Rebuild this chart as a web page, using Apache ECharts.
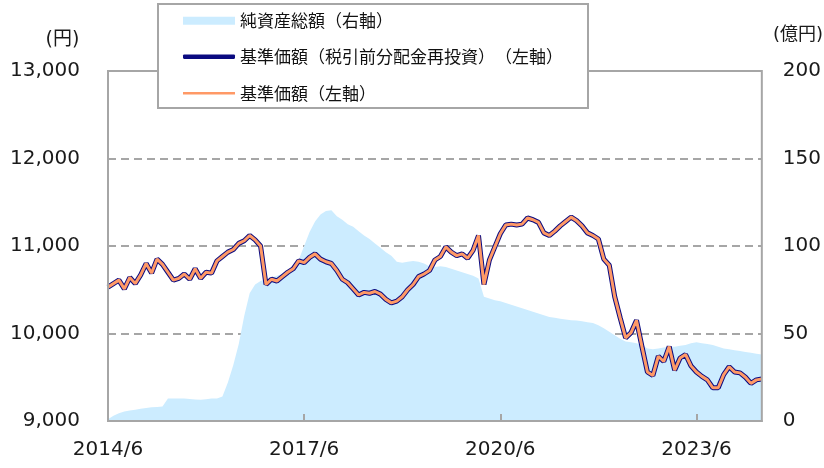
<!DOCTYPE html>
<html>
<head>
<meta charset="utf-8">
<script src="https://cdn.jsdelivr.net/npm/echarts@6/dist/echarts.min.js"></script>
<style>
html,body{margin:0;padding:0;background:#fff;}
#chart{width:824px;height:468px;}
</style>
</head>
<body>
<div id="chart"></div>
<script>
// Monthly categories 2014/6 .. 2024/6
const categories = [];
for (let y = 2014, m = 6; y < 2024 || (y === 2024 && m <= 6); ) {
  categories.push(y + '/' + m);
  m++; if (m > 12) { m = 1; y++; }
}
const xTickLabels = ['2014/6', '2017/6', '2020/6', '2023/6'];

// 純資産総額（億円）
const netAssets = [
  1, 3, 4.5, 5.5, 6, 6.5, 7, 7.5, 7.8, 8,
  8.3, 12.8, 12.8, 12.8, 12.8, 12.6, 12.3, 12.2, 12.5, 12.8,
  12.9, 14, 22, 32, 44, 60, 73, 78, 80, 81,
  82, 83, 84, 86, 88, 92, 100, 108, 114, 118,
  120, 120.5, 117, 115, 112.5, 111, 108.5, 106, 104, 101.5,
  99, 96.5, 94.5, 91, 90.5, 91, 91.5, 91, 90, 88.5,
  88, 88.5, 88, 87, 86, 85, 84, 83, 81.5, 71,
  70, 69, 68.5, 67.5, 66.5, 65.5, 64.5, 63.5, 62.5, 61.5,
  60.5, 59.5, 59, 58.5, 58, 57.6, 57.5, 57, 56.5, 56,
  54.7, 53, 51, 49, 47, 45.5, 45, 44.5, 43.5, 41.5,
  41, 41.5, 42, 42.5, 42.5, 43, 43.5, 44.5, 45, 44.5,
  44, 43.5, 42.5, 41.5, 41, 40.5, 40, 39.5, 39, 38.5,
  38
];

// 基準価額（税引前分配金再投資）（円）
const navReinvested = [
  10530, 10570, 10610, 10510, 10640, 10570, 10670, 10800, 10690, 10850,
  10790, 10700, 10610, 10630, 10680, 10620, 10740, 10630, 10700, 10690,
  10830, 10880, 10930, 10960, 11030, 11060, 11120, 11070, 11000, 10560,
  10620, 10600, 10650, 10700, 10740, 10830, 10810, 10870, 10910, 10850,
  10820, 10800, 10720, 10620, 10580, 10510, 10440, 10470, 10460, 10480,
  10450, 10390, 10350, 10370, 10420, 10500, 10560, 10650, 10680, 10720,
  10840, 10880, 10990, 10930, 10890, 10910, 10860, 10950, 11120, 10560,
  10840, 10990, 11140, 11240, 11250, 11240, 11250, 11320, 11300, 11270,
  11150, 11120, 11170, 11230, 11280, 11330, 11290, 11230, 11150, 11120,
  11080, 10850, 10780, 10420, 10180, 9950, 10010, 10150, 9850, 9560,
  9520, 9740, 9680, 9850, 9580, 9720, 9760, 9630, 9560, 9510,
  9470, 9380, 9380, 9530, 9620, 9560, 9550, 9500, 9430, 9470,
  9480
];

// 基準価額（円）
const nav = [
  10530, 10570, 10610, 10510, 10640, 10570, 10670, 10800, 10690, 10850,
  10790, 10700, 10610, 10630, 10680, 10620, 10740, 10630, 10700, 10690,
  10830, 10880, 10930, 10960, 11030, 11060, 11120, 11070, 11000, 10560,
  10620, 10600, 10650, 10700, 10740, 10830, 10810, 10870, 10910, 10850,
  10820, 10800, 10720, 10620, 10580, 10510, 10440, 10470, 10460, 10480,
  10450, 10390, 10350, 10370, 10420, 10500, 10560, 10650, 10680, 10720,
  10840, 10880, 10990, 10930, 10890, 10910, 10860, 10950, 11120, 10560,
  10840, 10990, 11140, 11240, 11250, 11240, 11250, 11320, 11300, 11270,
  11150, 11120, 11170, 11230, 11280, 11330, 11290, 11230, 11150, 11120,
  11080, 10850, 10780, 10420, 10180, 9950, 10010, 10150, 9850, 9560,
  9520, 9740, 9680, 9850, 9580, 9720, 9760, 9630, 9560, 9510,
  9470, 9380, 9380, 9530, 9620, 9560, 9550, 9500, 9430, 9470,
  9480
];

const seriesNames = ['純資産総額（右軸）', '基準価額（税引前分配金再投資）（左軸）', '基準価額（左軸）'];
const leftUnit = '(円)';
const rightUnit = '(億円)';

const numFont = 'DejaVu Sans, Verdana, sans-serif';
const jpFont = '"Noto Sans CJK JP", sans-serif';
const gray = '#A6A6A6';
// keep full-width parentheses from being squeezed together when adjacent
const legendFmt = function (name) { return name.replace('）（', '）\u200B（'); };
const legendText = {fontSize: 17, lineHeight: 20, fontFamily: jpFont, color: '#111'};

const chart = echarts.init(document.getElementById('chart'), null, {renderer: 'canvas'});
chart.setOption({
  animation: false,
  backgroundColor: '#ffffff',
  grid: {left: 108, right: 62, top: 71, bottom: 47, show: true, z: 5, borderColor: gray, borderWidth: 2, backgroundColor: 'transparent'},
  graphic: [
    {type: 'rect', z: 6, shape: {x: 158, y: 4, width: 430, height: 104},
     style: {fill: '#ffffff', stroke: gray, lineWidth: 2}},
    {type: 'text', z: 6, style: {x: 62.5, y: 40, text: leftUnit, align: 'center', verticalAlign: 'middle',
      font: '19px DejaVu Sans, "Noto Sans CJK JP"', fill: '#1a1a1a'}},
    {type: 'text', z: 6, style: {x: 773, y: 35, text: rightUnit, align: 'left', verticalAlign: 'middle',
      font: '18px DejaVu Sans, "Noto Sans CJK JP"', fill: '#1a1a1a'}}
  ],
  legend: [
    {data: [seriesNames[0]], left: 183, top: 10.7, padding: 0, itemWidth: 52, itemHeight: 8, icon: 'rect', z: 8,
     formatter: legendFmt, textStyle: legendText},
    {data: [seriesNames[1]], left: 183, top: 46.7, padding: 0, itemWidth: 52, itemHeight: 4.5, icon: 'roundRect', z: 8,
     formatter: legendFmt, textStyle: legendText},
    {data: [seriesNames[2]], left: 183, top: 83.3, padding: 0, itemWidth: 52, itemHeight: 2.5, icon: 'rect', z: 8,
     formatter: legendFmt, textStyle: legendText}
  ],
  xAxis: {
    type: 'category',
    data: categories,
    boundaryGap: false,
    z: 5,
    axisLine: {show: true, lineStyle: {color: gray, width: 2}},
    axisTick: {show: true, inside: true, length: 7, interval: 35, lineStyle: {color: gray, width: 2}},
    axisLabel: {
      interval: 35, margin: 19, fontSize: 20, fontFamily: numFont, color: '#1a1a1a',
      formatter: function (v) { return xTickLabels.indexOf(v) >= 0 ? v : ''; }
    },
    splitLine: {show: false}
  },
  yAxis: [
    {
      type: 'value', position: 'left', min: 9000, max: 13000, interval: 1000,
      axisLine: {show: false}, axisTick: {show: false},
      axisLabel: {margin: 28, fontSize: 20, fontFamily: numFont, color: '#1a1a1a'},
      splitLine: {show: true, lineStyle: {color: gray, width: 2, type: [8, 5]}}
    },
    {
      type: 'value', position: 'right', min: 0, max: 200, interval: 50,
      axisLine: {show: false}, axisTick: {show: false},
      axisLabel: {margin: 21, fontSize: 20, fontFamily: numFont, color: '#1a1a1a'},
      splitLine: {show: false}
    }
  ],
  series: [
    {
      name: seriesNames[0], type: 'line', yAxisIndex: 1, data: netAssets,
      symbol: 'none', itemStyle: {color: '#CCECFF'},
      lineStyle: {width: 0, color: '#CCECFF'},
      areaStyle: {color: '#CCECFF', opacity: 1}, z: 1
    },
    {
      name: seriesNames[1], type: 'line', yAxisIndex: 0, data: navReinvested,
      symbol: 'none', itemStyle: {color: '#0A0A80'},
      lineStyle: {width: 5, color: '#0A0A80'}, z: 3
    },
    {
      name: seriesNames[2], type: 'line', yAxisIndex: 0, data: nav,
      symbol: 'none', itemStyle: {color: '#FF9966'},
      lineStyle: {width: 3, color: '#FF9966'}, z: 4
    }
  ]
});
</script>
</body>
</html>
